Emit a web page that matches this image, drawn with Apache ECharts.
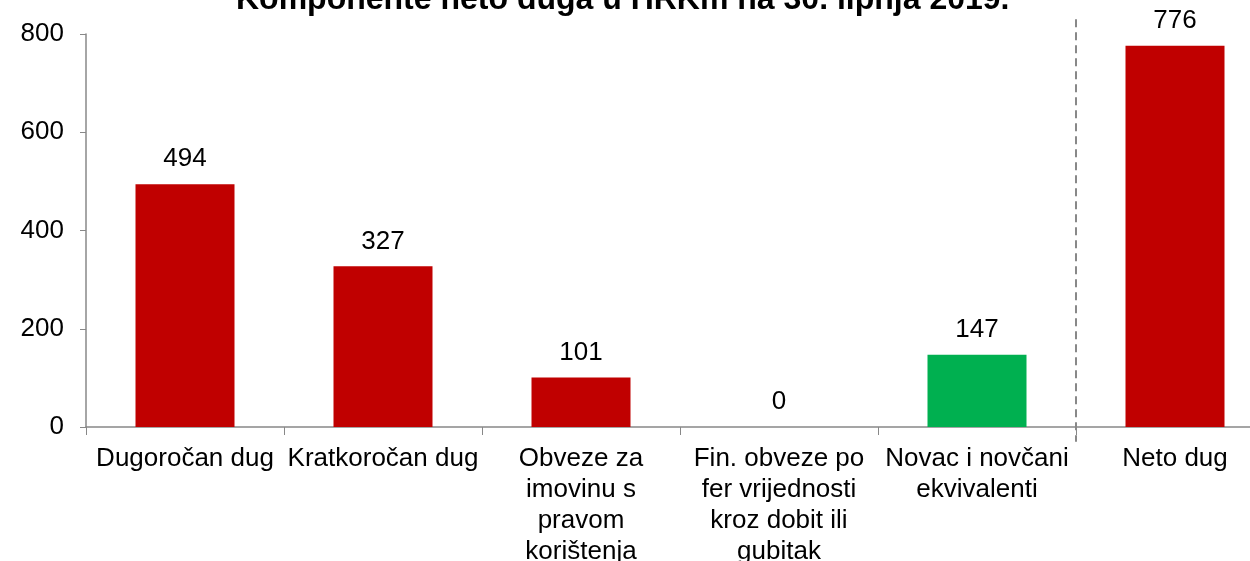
<!DOCTYPE html>
<html>
<head>
<meta charset="utf-8">
<script src="https://cdn.jsdelivr.net/npm/echarts@6/dist/echarts.min.js"></script>
<style>
  html, body { margin: 0; padding: 0; background: #fff; }
  #chart { width: 1250px; height: 561px; }
</style>
</head>
<body>
<div id="chart"></div>
<script>
// data (HRKm)
const categories = [
  'Dugoročan dug',
  'Kratkoročan dug',
  'Obveze za\nimovinu s\npravom\nkorištenja',
  'Fin. obveze po\nfer vrijednosti\nkroz dobit ili\ngubitak',
  'Novac i novčani\nekvivalenti',
  'Neto dug'
]
const values = [494, 327, 101, 0, 147, 776]
const barColors = ['#C00000', '#C00000', '#C00000', '#C00000', '#00B050', '#C00000']
const yTicks = { min: 0, max: 800, step: 200 }
const separatorAt = 5 // boundary before "Neto dug"

const chart = echarts.init(document.getElementById('chart'))
const font = 'Liberation Sans, Arial, sans-serif'

const option = {
  animation: false,
  title: {
    text: 'Komponente neto duga u HRKm na 30. lipnja 2019.',
    left: 231,
    top: -21,
    textStyle: { fontFamily: font, fontSize: 32, fontWeight: 'bold', color: '#000' }
  },
  grid: { left: 86, right: -24, top: 34, bottom: 134, outerBoundsMode: 'none', containLabel: false },
  xAxis: [
    {
      type: 'category',
      data: categories,
      axisLine: { lineStyle: { color: '#888', width: 1.5 } },
      axisTick: { show: true, length: 8, lineStyle: { color: '#888' } },
      axisLabel: {
        interval: 0,
        margin: 16,
        fontFamily: font,
        fontSize: 26,
        lineHeight: 31,
        color: '#000'
      }
    },
    {
      type: 'value',
      min: 0,
      max: categories.length,
      show: false
    }
  ],
  yAxis: {
    type: 'value',
    min: yTicks.min,
    max: yTicks.max,
    interval: yTicks.step,
    splitLine: { show: false },
    axisLine: { show: true, lineStyle: { color: '#888', width: 1.5 } },
    axisTick: { show: true, length: 6, lineStyle: { color: '#888' } },
    axisLabel: { fontFamily: font, fontSize: 26, color: '#000', margin: 22 }
  },
  series: [
    {
      type: 'bar',
      barWidth: '50%',
      data: values.map((v, i) => ({ value: v, itemStyle: { color: barColors[i] } })),
      label: {
        show: true,
        position: 'top',
        distance: 12,
        fontFamily: font,
        fontSize: 26,
        color: '#000'
      }
    }
  ]
}

chart.setOption(option)

// dashed separator before the total, placed through the hidden value axis
const sepX = chart.convertToPixel({ xAxisIndex: 1 }, separatorAt)
const topY = chart.convertToPixel({ yAxisIndex: 0 }, 830)
const botY = chart.convertToPixel({ yAxisIndex: 0 }, -30)
chart.setOption({
  graphic: [{
    type: 'line',
    silent: true,
    shape: { x1: sepX, y1: topY, x2: sepX, y2: botY },
    style: { stroke: '#888', lineWidth: 2, lineDash: [8, 5] }
  }]
})
</script>
</body>
</html>
